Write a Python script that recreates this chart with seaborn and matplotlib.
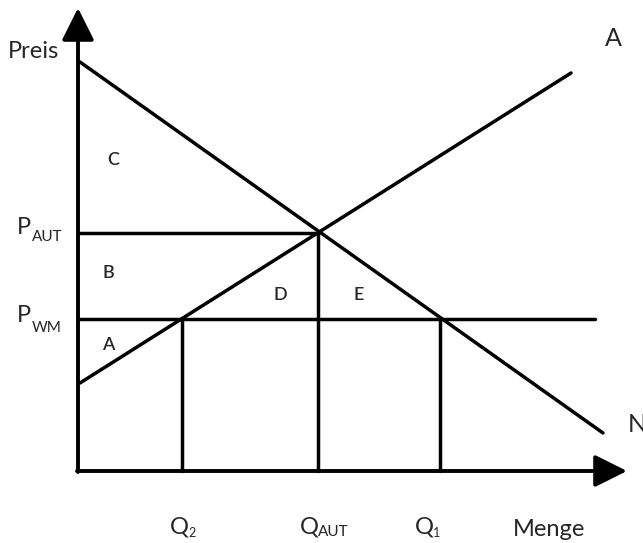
import matplotlib
matplotlib.use("Agg")
import matplotlib.pyplot as plt
import pandas as pd
import seaborn as sns

# economic coordinates (origin at the axes crossing)
demand_q = [2, 525]
demand_p = [409, 38]
supply_q = [2, 493]
supply_p = [88, 398]

p_aut = 238
p_wm = 152
q_2 = 104
q_aut = 240
q_1 = 362
wm_end = 517

sns.set_theme(style="white")
plt.rcParams['font.family'] = ['Lato', 'DejaVu Sans']

fig = plt.figure(figsize=(6.43, 5.43), dpi=100)
ax = fig.add_axes([0, 0, 1, 1])
ax.set_xlim(-78, 565)
ax.set_ylim(-72, 471)
ax.axis('off')

lw = 2.5
curves = pd.DataFrame({
    'q': demand_q + supply_q,
    'p': demand_p + supply_p,
    'kurve': ['N', 'N', 'A', 'A'],
})
sns.lineplot(data=curves, x='q', y='p', hue='kurve', palette=['black', 'black'],
             legend=False, linewidth=lw, ax=ax, sort=False)

# price lines
ax.plot([0, q_aut], [p_aut, p_aut], color='black', lw=lw)
ax.plot([0, wm_end], [p_wm, p_wm], color='black', lw=lw)
# quantity lines
for q, top in [(q_2, p_wm), (q_aut, p_aut), (q_1, p_wm)]:
    ax.plot([q, q], [0, top], color='black', lw=lw)

# axes with arrow heads
arrow = dict(arrowstyle='-|>,head_length=1.1,head_width=0.55', color='black',
             lw=2.8, mutation_scale=18, shrinkA=0, shrinkB=0)
ax.annotate('', xy=(0, 463), xytext=(0, -1), arrowprops=arrow)
ax.annotate('', xy=(549, 0), xytext=(-1, 0), arrowprops=arrow)

# labels
ax.text(-70, 419, 'Preis', fontsize=17, va='center', ha='left')
ax.text(-61, 243, 'P', fontsize=17, va='center', ha='left')
ax.text(-46, 234, 'AUT', fontsize=11, va='center', ha='left')
ax.text(-61, 155, 'P', fontsize=17, va='center', ha='left')
ax.text(-46, 143, 'WM', fontsize=11, va='center', ha='left')

area_font = dict(fontsize=13, va='center', ha='center', fontweight='semibold')
ax.text(35, 311, 'C', **area_font)
ax.text(30, 198, 'B', **area_font)
ax.text(30, 126, 'A', **area_font)
ax.text(202, 176, 'D', **area_font)
ax.text(281, 176, 'E', **area_font)

ax.text(535, 432, 'A', fontsize=18, va='center', ha='center')
ax.text(550, 46, 'N', fontsize=18, va='center', ha='left')

ax.text(92, -56, 'Q', fontsize=17, va='center', ha='left')
ax.text(110, -62, '2', fontsize=9, va='center', ha='left')
ax.text(222, -56, 'Q', fontsize=17, va='center', ha='left')
ax.text(240, -61, 'AUT', fontsize=11, va='center', ha='left')
ax.text(337, -56, 'Q', fontsize=17, va='center', ha='left')
ax.text(355, -62, '1', fontsize=9, va='center', ha='left')
ax.text(435, -58, 'Menge', fontsize=17, va='center', ha='left')

fig.savefig('out.png', dpi=100, facecolor='white')
